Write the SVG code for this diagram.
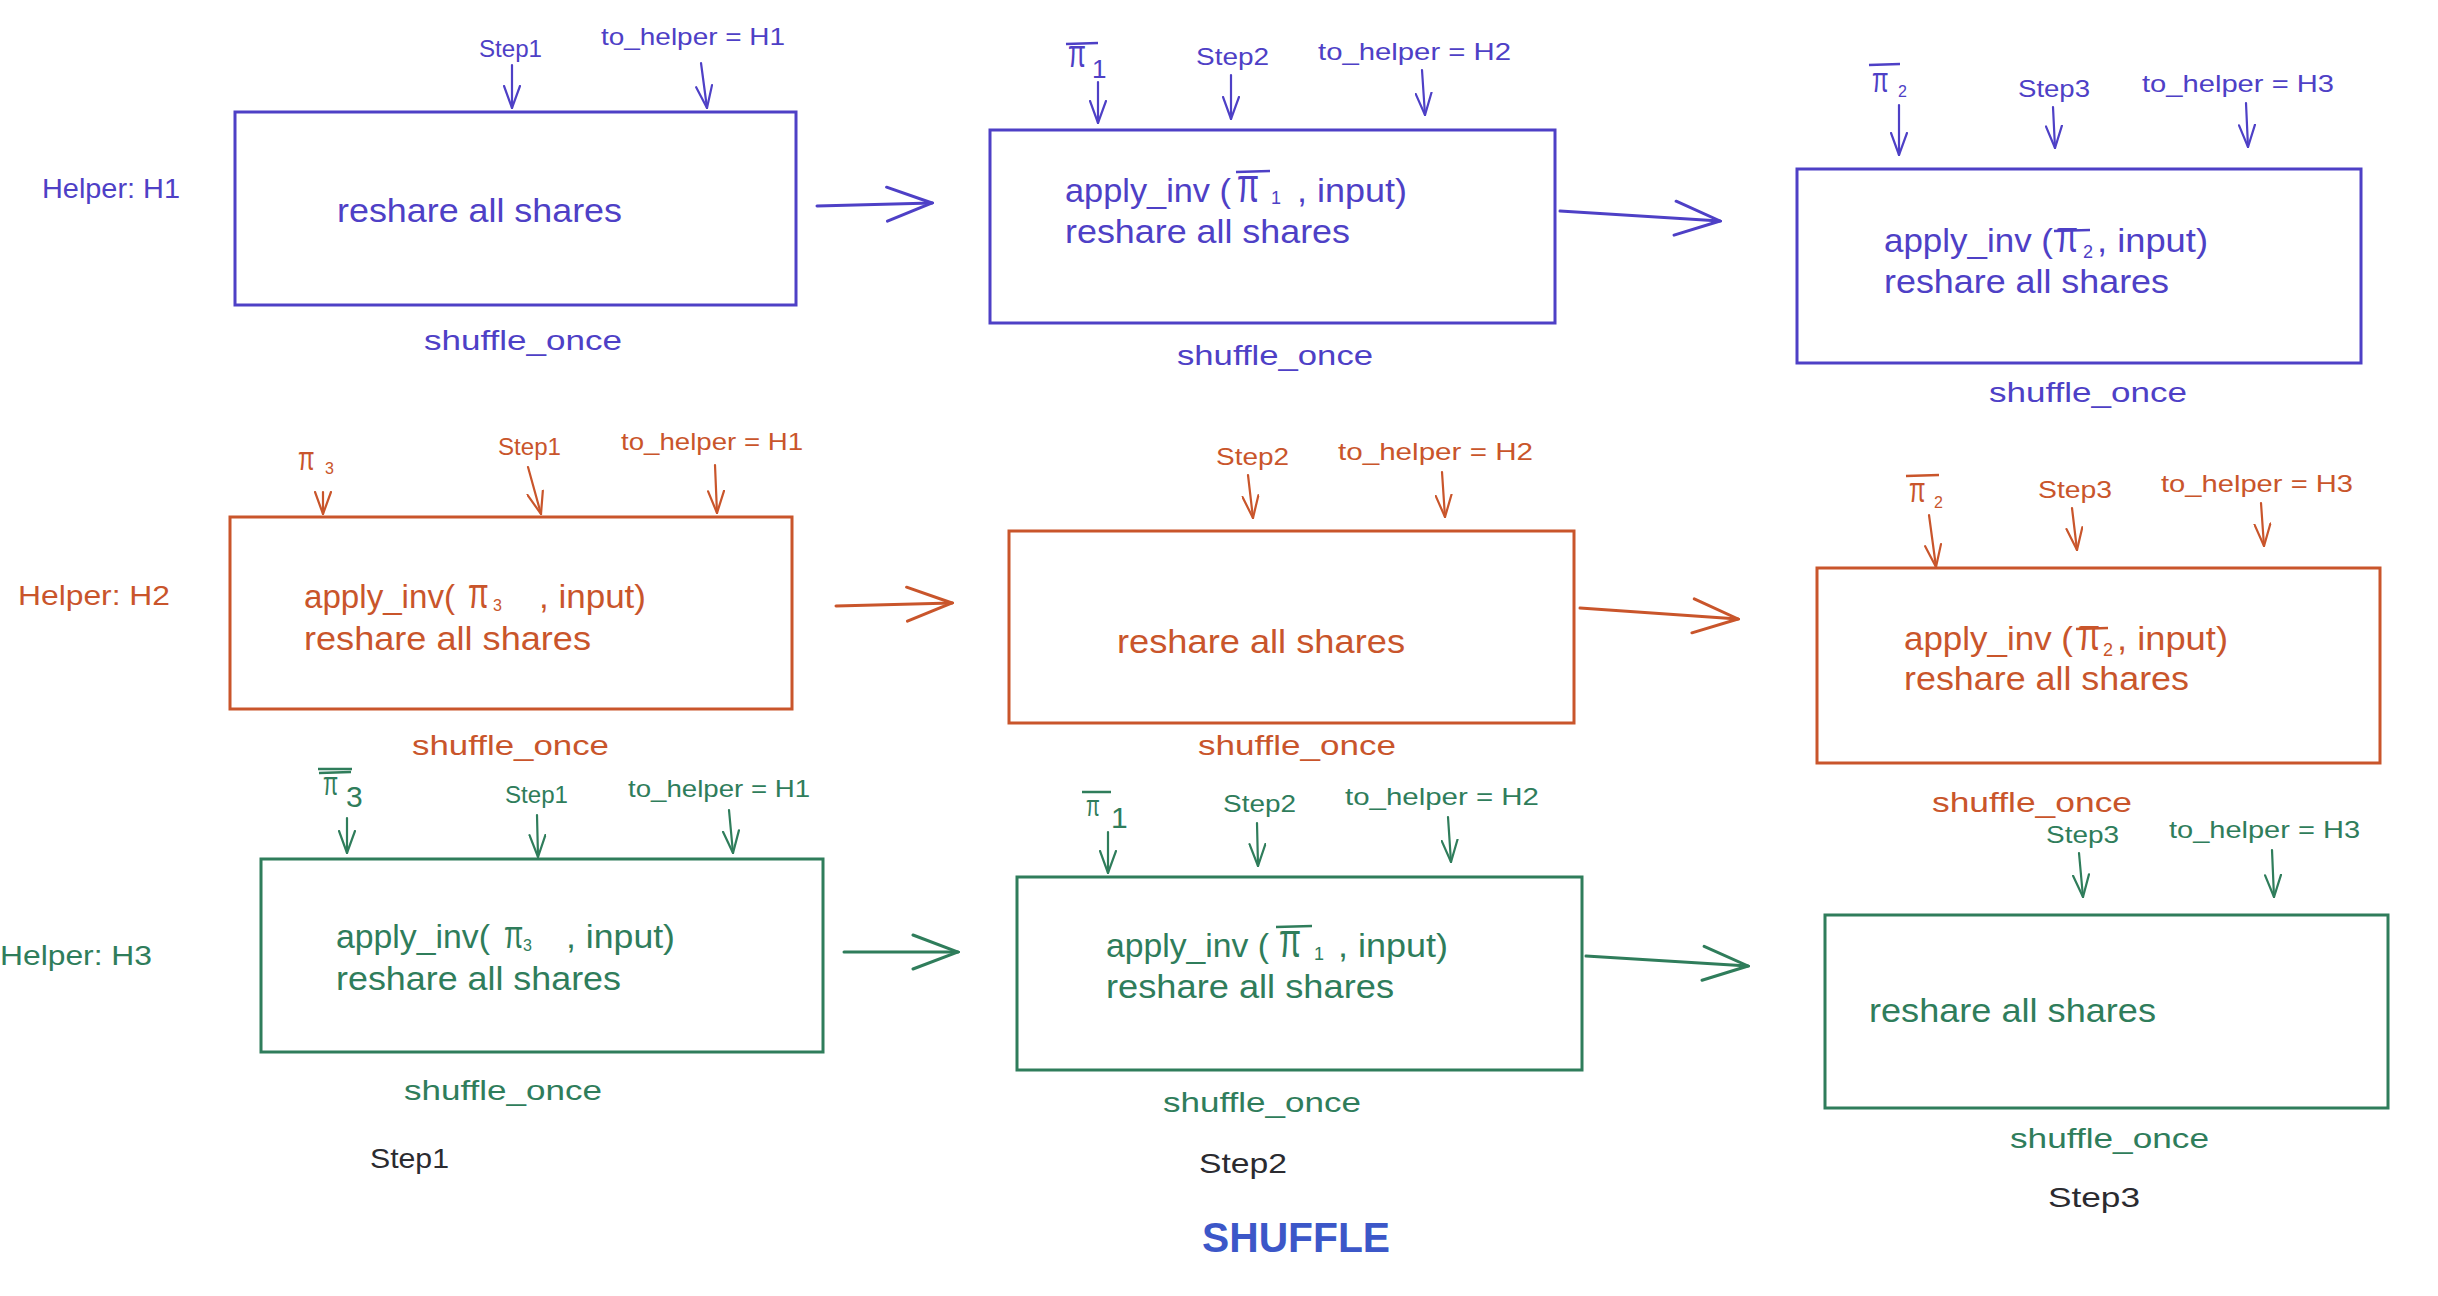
<svg xmlns="http://www.w3.org/2000/svg" width="2438" height="1296" viewBox="0 0 2438 1296">
<defs>
<style>
text{font-family:"Liberation Sans","DejaVu Sans",sans-serif;}
.b{fill:#4e40c6}.o{fill:#c9552b}.g{fill:#2f7d5b}.k{fill:#2b2b30}
.bx{fill:none;stroke-width:3}
.sb{stroke:#4e40c6}.so{stroke:#c9552b}.sg{stroke:#2f7d5b}
.hl{font-size:28px}
.tl{font-size:24px}
.in{font-size:33px}
.so2{font-size:28px}
.bar{stroke-width:2.5;fill:none}
.ar{fill:none;stroke-width:2.2;stroke-linecap:round}
.big{stroke-width:3}
</style>
<marker id="smb" viewBox="0 0 24 18" refX="23" refY="9" markerWidth="24" markerHeight="18" markerUnits="userSpaceOnUse" orient="auto"><path d="M1,1 L23,9 L1,17" fill="none" stroke="#4e40c6" stroke-width="2.2" stroke-linecap="round"/></marker>
<marker id="smo" viewBox="0 0 24 18" refX="23" refY="9" markerWidth="24" markerHeight="18" markerUnits="userSpaceOnUse" orient="auto"><path d="M1,1 L23,9 L1,17" fill="none" stroke="#c9552b" stroke-width="2.2" stroke-linecap="round"/></marker>
<marker id="smg" viewBox="0 0 24 18" refX="23" refY="9" markerWidth="24" markerHeight="18" markerUnits="userSpaceOnUse" orient="auto"><path d="M1,1 L23,9 L1,17" fill="none" stroke="#2f7d5b" stroke-width="2.2" stroke-linecap="round"/></marker>
<marker id="bgb" viewBox="0 0 50 38" refX="48" refY="19" markerWidth="50" markerHeight="38" markerUnits="userSpaceOnUse" orient="auto"><path d="M3,2 L48,19 L3,36" fill="none" stroke="#4e40c6" stroke-width="3" stroke-linecap="round"/></marker>
<marker id="bgo" viewBox="0 0 50 38" refX="48" refY="19" markerWidth="50" markerHeight="38" markerUnits="userSpaceOnUse" orient="auto"><path d="M3,2 L48,19 L3,36" fill="none" stroke="#c9552b" stroke-width="3" stroke-linecap="round"/></marker>
<marker id="bgg" viewBox="0 0 50 38" refX="48" refY="19" markerWidth="50" markerHeight="38" markerUnits="userSpaceOnUse" orient="auto"><path d="M3,2 L48,19 L3,36" fill="none" stroke="#2f7d5b" stroke-width="3" stroke-linecap="round"/></marker>
</defs>
<rect width="2438" height="1296" fill="#ffffff"/>

<g id="labels">
<text class="b hl" x="42" y="198" textLength="138" lengthAdjust="spacingAndGlyphs">Helper: H1</text>
<text class="o hl" x="18" y="605" textLength="152" lengthAdjust="spacingAndGlyphs">Helper: H2</text>
<text class="g hl" x="0" y="965" textLength="152" lengthAdjust="spacingAndGlyphs">Helper: H3</text>
<text class="k" font-size="28" x="370" y="1168" textLength="79" lengthAdjust="spacingAndGlyphs">Step1</text>
<text class="k" font-size="28" x="1199" y="1173" textLength="88" lengthAdjust="spacingAndGlyphs">Step2</text>
<text class="k" font-size="28" x="2048" y="1207" textLength="92" lengthAdjust="spacingAndGlyphs">Step3</text>
<text font-size="42" font-weight="bold" fill="#3c57c8" x="1202" y="1252" textLength="188" lengthAdjust="spacingAndGlyphs">SHUFFLE</text>
</g>

<!-- Row 1: H1 -->
<g id="h1-step1">
<rect class="bx sb" x="235" y="112" width="561" height="193"/>
<text class="b tl" x="479" y="57" textLength="63" lengthAdjust="spacingAndGlyphs">Step1</text>
<text class="b tl" x="601" y="45" textLength="184" lengthAdjust="spacingAndGlyphs">to_helper = H1</text>
<text class="b in" x="337" y="222" textLength="285" lengthAdjust="spacingAndGlyphs">reshare all shares</text>
<text class="b so2" x="424" y="350" textLength="198" lengthAdjust="spacingAndGlyphs">shuffle_once</text>
</g>
<g id="h1-step2">
<rect class="bx sb" x="990" y="130" width="565" height="193"/>
<line class="bar sb" x1="1066" y1="44" x2="1098" y2="43"/>
<text class="b" font-size="26" transform="translate(1068,67) scale(1,1.5)">π</text>
<text class="b" font-size="26" x="1092" y="78">1</text>
<text class="b tl" x="1196" y="65" textLength="73" lengthAdjust="spacingAndGlyphs">Step2</text>
<text class="b tl" x="1318" y="60" textLength="193" lengthAdjust="spacingAndGlyphs">to_helper = H2</text>
<text class="b in" x="1065" y="202" textLength="166" lengthAdjust="spacingAndGlyphs">apply_inv (</text>
<line class="bar sb" x1="1236" y1="172" x2="1270" y2="171"/>
<text class="b" font-size="32" transform="translate(1237,202) scale(1,1.5)">π</text>
<text class="b" font-size="18" x="1271" y="204">1</text>
<text class="b in" x="1297" y="202" textLength="110" lengthAdjust="spacingAndGlyphs">, input)</text>
<text class="b in" x="1065" y="243" textLength="285" lengthAdjust="spacingAndGlyphs">reshare all shares</text>
<text class="b so2" x="1177" y="365" textLength="196" lengthAdjust="spacingAndGlyphs">shuffle_once</text>
</g>
<g id="h1-step3">
<rect class="bx sb" x="1797" y="169" width="564" height="194"/>
<line class="bar sb" x1="1869" y1="65" x2="1900" y2="64"/>
<text class="b" font-size="24" transform="translate(1872,92) scale(1,1.5)">π</text>
<text class="b" font-size="16" x="1898" y="97">2</text>
<text class="b tl" x="2018" y="97" textLength="72" lengthAdjust="spacingAndGlyphs">Step3</text>
<text class="b tl" x="2142" y="92" textLength="192" lengthAdjust="spacingAndGlyphs">to_helper = H3</text>
<text class="b in" x="1884" y="252" textLength="169" lengthAdjust="spacingAndGlyphs">apply_inv (</text>
<line class="bar sb" x1="2054" y1="231" x2="2090" y2="230"/>
<text class="b" font-size="32" transform="translate(2056,252) scale(1,1.4)">π</text>
<text class="b" font-size="18" x="2083" y="258">2</text>
<text class="b in" x="2097" y="252" textLength="111" lengthAdjust="spacingAndGlyphs">, input)</text>
<text class="b in" x="1884" y="293" textLength="285" lengthAdjust="spacingAndGlyphs">reshare all shares</text>
<text class="b so2" x="1989" y="402" textLength="198" lengthAdjust="spacingAndGlyphs">shuffle_once</text>
</g>

<!-- Row 2: H2 -->
<g id="h2-step1">
<rect class="bx so" x="230" y="517" width="562" height="192"/>
<text class="o" font-size="24" transform="translate(298,470) scale(1,1.4)">π</text>
<text class="o" font-size="16" x="325" y="474">3</text>
<text class="o tl" x="498" y="455" textLength="63" lengthAdjust="spacingAndGlyphs">Step1</text>
<text class="o tl" x="621" y="450" textLength="182" lengthAdjust="spacingAndGlyphs">to_helper = H1</text>
<text class="o in" x="304" y="608" textLength="151" lengthAdjust="spacingAndGlyphs">apply_inv(</text>
<text class="o" font-size="30" transform="translate(468,608) scale(1,1.4)">π</text>
<text class="o" font-size="16" x="493" y="611">3</text>
<text class="o in" x="539" y="608" textLength="107" lengthAdjust="spacingAndGlyphs">, input)</text>
<text class="o in" x="304" y="650" textLength="287" lengthAdjust="spacingAndGlyphs">reshare all shares</text>
<text class="o so2" x="412" y="755" textLength="197" lengthAdjust="spacingAndGlyphs">shuffle_once</text>
</g>
<g id="h2-step2">
<rect class="bx so" x="1009" y="531" width="565" height="192"/>
<text class="o tl" x="1216" y="465" textLength="73" lengthAdjust="spacingAndGlyphs">Step2</text>
<text class="o tl" x="1338" y="460" textLength="195" lengthAdjust="spacingAndGlyphs">to_helper = H2</text>
<text class="o in" x="1117" y="653" textLength="288" lengthAdjust="spacingAndGlyphs">reshare all shares</text>
<text class="o so2" x="1198" y="755" textLength="198" lengthAdjust="spacingAndGlyphs">shuffle_once</text>
</g>
<g id="h2-step3">
<rect class="bx so" x="1817" y="568" width="563" height="195"/>
<line class="bar so" x1="1906" y1="476" x2="1939" y2="475"/>
<text class="o" font-size="24" transform="translate(1909,502) scale(1,1.5)">π</text>
<text class="o" font-size="16" x="1934" y="508">2</text>
<text class="o tl" x="2038" y="498" textLength="74" lengthAdjust="spacingAndGlyphs">Step3</text>
<text class="o tl" x="2161" y="492" textLength="192" lengthAdjust="spacingAndGlyphs">to_helper = H3</text>
<text class="o in" x="1904" y="650" textLength="169" lengthAdjust="spacingAndGlyphs">apply_inv (</text>
<line class="bar so" x1="2076" y1="629" x2="2108" y2="628"/>
<text class="o" font-size="32" transform="translate(2078,650) scale(1,1.4)">π</text>
<text class="o" font-size="18" x="2103" y="656">2</text>
<text class="o in" x="2117" y="650" textLength="111" lengthAdjust="spacingAndGlyphs">, input)</text>
<text class="o in" x="1904" y="690" textLength="285" lengthAdjust="spacingAndGlyphs">reshare all shares</text>
<text class="o so2" x="1932" y="812" textLength="200" lengthAdjust="spacingAndGlyphs">shuffle_once</text>
</g>

<!-- Row 3: H3 -->
<g id="h3-step1">
<rect class="bx sg" x="261" y="859" width="562" height="193"/>
<line class="bar sg" x1="318" y1="769" x2="352" y2="769"/>
<line class="bar sg" x1="319" y1="773" x2="351" y2="772" stroke-width="1.5"/>
<text class="g" font-size="22" transform="translate(323,795) scale(1,1.5)">π</text>
<text class="g" font-size="30" x="346" y="807">3</text>
<text class="g tl" x="505" y="803" textLength="63" lengthAdjust="spacingAndGlyphs">Step1</text>
<text class="g tl" x="628" y="797" textLength="182" lengthAdjust="spacingAndGlyphs">to_helper = H1</text>
<text class="g in" x="336" y="948" textLength="154" lengthAdjust="spacingAndGlyphs">apply_inv(</text>
<text class="g" font-size="28" transform="translate(504,948) scale(1,1.4)">π</text>
<text class="g" font-size="16" x="523" y="951">3</text>
<text class="g in" x="566" y="948" textLength="109" lengthAdjust="spacingAndGlyphs">, input)</text>
<text class="g in" x="336" y="990" textLength="285" lengthAdjust="spacingAndGlyphs">reshare all shares</text>
<text class="g so2" x="404" y="1100" textLength="198" lengthAdjust="spacingAndGlyphs">shuffle_once</text>
</g>
<g id="h3-step2">
<rect class="bx sg" x="1017" y="877" width="565" height="193"/>
<line class="bar sg" x1="1082" y1="792" x2="1111" y2="792"/>
<text class="g" font-size="20" transform="translate(1086,816) scale(1,1.5)">π</text>
<text class="g" font-size="30" x="1111" y="828">1</text>
<text class="g tl" x="1223" y="812" textLength="73" lengthAdjust="spacingAndGlyphs">Step2</text>
<text class="g tl" x="1345" y="805" textLength="194" lengthAdjust="spacingAndGlyphs">to_helper = H2</text>
<text class="g in" x="1106" y="957" textLength="163" lengthAdjust="spacingAndGlyphs">apply_inv (</text>
<line class="bar sg" x1="1276" y1="927" x2="1312" y2="926"/>
<text class="g" font-size="32" transform="translate(1279,957) scale(1,1.5)">π</text>
<text class="g" font-size="18" x="1314" y="960">1</text>
<text class="g in" x="1338" y="957" textLength="110" lengthAdjust="spacingAndGlyphs">, input)</text>
<text class="g in" x="1106" y="998" textLength="288" lengthAdjust="spacingAndGlyphs">reshare all shares</text>
<text class="g so2" x="1163" y="1112" textLength="198" lengthAdjust="spacingAndGlyphs">shuffle_once</text>
</g>
<g id="h3-step3">
<rect class="bx sg" x="1825" y="915" width="563" height="193"/>
<text class="g tl" x="2046" y="843" textLength="73" lengthAdjust="spacingAndGlyphs">Step3</text>
<text class="g tl" x="2169" y="838" textLength="191" lengthAdjust="spacingAndGlyphs">to_helper = H3</text>
<text class="g in" x="1869" y="1022" textLength="287" lengthAdjust="spacingAndGlyphs">reshare all shares</text>
<text class="g so2" x="2010" y="1148" textLength="199" lengthAdjust="spacingAndGlyphs">shuffle_once</text>
</g>

<g id="connectors">
<line class="ar sb" x1="512" y1="65" x2="512" y2="108" marker-end="url(#smb)"/>
<line class="ar sb" x1="701" y1="63" x2="707" y2="108" marker-end="url(#smb)"/>
<line class="ar sb" x1="1098" y1="82" x2="1098" y2="123" marker-end="url(#smb)"/>
<line class="ar sb" x1="1231" y1="75" x2="1231" y2="119" marker-end="url(#smb)"/>
<line class="ar sb" x1="1422" y1="70" x2="1425" y2="115" marker-end="url(#smb)"/>
<line class="ar sb" x1="1899" y1="105" x2="1899" y2="155" marker-end="url(#smb)"/>
<line class="ar sb" x1="2053" y1="107" x2="2055" y2="148" marker-end="url(#smb)"/>
<line class="ar sb" x1="2246" y1="103" x2="2248" y2="147" marker-end="url(#smb)"/>
<line class="ar sb big" x1="817" y1="206" x2="932" y2="203" marker-end="url(#bgb)"/>
<line class="ar sb big" x1="1560" y1="211" x2="1720" y2="221" marker-end="url(#bgb)"/>

<line class="ar so" x1="323" y1="492" x2="323" y2="514" marker-end="url(#smo)"/>
<line class="ar so" x1="528" y1="467" x2="541" y2="514" marker-end="url(#smo)"/>
<line class="ar so" x1="715" y1="465" x2="717" y2="513" marker-end="url(#smo)"/>
<line class="ar so" x1="1248" y1="475" x2="1253" y2="518" marker-end="url(#smo)"/>
<line class="ar so" x1="1442" y1="472" x2="1445" y2="517" marker-end="url(#smo)"/>
<line class="ar so" x1="1929" y1="515" x2="1936" y2="567" marker-end="url(#smo)"/>
<line class="ar so" x1="2072" y1="508" x2="2077" y2="550" marker-end="url(#smo)"/>
<line class="ar so" x1="2261" y1="503" x2="2264" y2="546" marker-end="url(#smo)"/>
<line class="ar so big" x1="836" y1="606" x2="952" y2="603" marker-end="url(#bgo)"/>
<line class="ar so big" x1="1580" y1="608" x2="1738" y2="619" marker-end="url(#bgo)"/>

<line class="ar sg" x1="347" y1="818" x2="347" y2="853" marker-end="url(#smg)"/>
<line class="ar sg" x1="537" y1="815" x2="538" y2="857" marker-end="url(#smg)"/>
<line class="ar sg" x1="729" y1="810" x2="733" y2="853" marker-end="url(#smg)"/>
<line class="ar sg" x1="1108" y1="832" x2="1108" y2="873" marker-end="url(#smg)"/>
<line class="ar sg" x1="1257" y1="823" x2="1258" y2="866" marker-end="url(#smg)"/>
<line class="ar sg" x1="1448" y1="817" x2="1451" y2="862" marker-end="url(#smg)"/>
<line class="ar sg" x1="2079" y1="853" x2="2083" y2="897" marker-end="url(#smg)"/>
<line class="ar sg" x1="2272" y1="850" x2="2274" y2="897" marker-end="url(#smg)"/>
<line class="ar sg big" x1="844" y1="952" x2="958" y2="952" marker-end="url(#bgg)"/>
<line class="ar sg big" x1="1586" y1="956" x2="1748" y2="966" marker-end="url(#bgg)"/>
</g>
</svg>
